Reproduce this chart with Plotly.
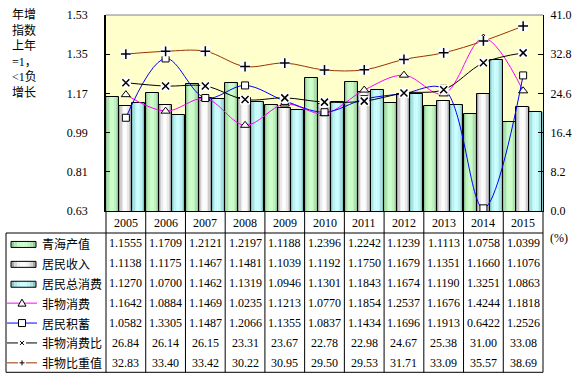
import plotly.graph_objects as go
import math

# ---------------- data ----------------
years = ['2005', '2006', '2007', '2008', '2009', '2010', '2011', '2012', '2013', '2014', '2015']
qinghai_output = [1.1555, 1.1709, 1.2121, 1.2197, 1.1188, 1.2396, 1.2242, 1.1239, 1.1113, 1.0758, 1.0399]
resident_income = [1.1138, 1.1175, 1.1467, 1.1481, 1.1039, 1.1192, 1.1750, 1.1679, 1.1351, 1.1660, 1.1076]
total_consumption = [1.1270, 1.0700, 1.1462, 1.1319, 1.0946, 1.1301, 1.1843, 1.1674, 1.1190, 1.3251, 1.0863]
nonmaterial_consumption = [1.1642, 1.0884, 1.1469, 1.0235, 1.1213, 1.0770, 1.1854, 1.2537, 1.1676, 1.4244, 1.1818]
resident_savings = [1.0582, 1.3305, 1.1487, 1.2066, 1.1355, 1.0837, 1.1434, 1.1696, 1.1913, 0.6422, 1.2526]
nonmaterial_ratio = [26.84, 26.14, 26.15, 23.31, 23.67, 22.78, 22.98, 24.67, 25.38, 31.00, 33.08]
nonmaterial_share = [32.83, 33.40, 33.42, 30.22, 30.95, 29.50, 29.53, 31.71, 33.09, 35.57, 38.69]

left_ticks = [0.63, 0.81, 0.99, 1.17, 1.35, 1.53]
right_ticks = [0.0, 8.2, 16.4, 24.6, 32.8, 41.0]

series_names = ['青海产值', '居民收入', '居民总消费', '非物消费', '居民积蓄', '非物消费比', '非物比重值']

# ---------------- layout geometry ----------------
W, H = 582, 379
L, R, T, B = 106, 543, 15, 211
PW, PH = R - L, B - T
TABLE_LEFT = 6
YEAR_ROW_BOTTOM = 233
ROW_H = 19.9
TABLE_BOTTOM = YEAR_ROW_BOTTOM + 7 * ROW_H


def pxx(px):
    return (px - L) / PW


def pxy(py):
    return (B - py) / PH


n = len(years)
xi = list(range(n))

NUM_FONT = 'Liberation Serif, Times New Roman, serif'
CJK_FONT = 'Noto Sans CJK SC, sans-serif'


def hex2rgb(h):
    h = h.lstrip('#')
    return tuple(int(h[i:i + 2], 16) for i in (0, 2, 4))


def mix(c1, c2, f):
    a, b = hex2rgb(c1), hex2rgb(c2)
    return 'rgb(%d,%d,%d)' % tuple(round(a[i] + (b[i] - a[i]) * f) for i in range(3))


fig = go.Figure()

# ---------------- gradient bars ----------------
bar_series = [
    (qinghai_output, '#78A878', '#CCFFCC'),
    (resident_income, '#707070', '#FFFFFF'),
    (total_consumption, '#64A4A4', '#CCFFFF'),
]
K = 9
bw = 0.327
start = -0.495
for s, (vals, edge, center) in enumerate(bar_series):
    off = start + s * bw
    for k in range(K):
        t = (k + 0.5) / K
        f = math.sin(math.pi * t) ** 0.6
        fig.add_trace(go.Bar(
            x=xi, y=vals, width=[bw / K] * n, offset=off + k * bw / K,
            marker=dict(color=mix(edge, center, f), line=dict(width=0)),
            showlegend=False, hoverinfo='skip'))
    fig.add_trace(go.Bar(
        x=xi, y=vals, width=[bw] * n, offset=off,
        marker=dict(color='rgba(0,0,0,0)', line=dict(color='black', width=1)),
        showlegend=False, hoverinfo='skip'))

# ---------------- lines on left axis ----------------
fig.add_trace(go.Scatter(
    x=xi, y=nonmaterial_consumption, mode='lines+markers',
    line=dict(color='#FF00FF', width=1, shape='spline'),
    marker=dict(symbol='triangle-up', size=8, color='white', line=dict(color='black', width=1)),
    showlegend=False, hoverinfo='skip'))
fig.add_trace(go.Scatter(
    x=xi, y=resident_savings, mode='lines+markers',
    line=dict(color='#0000FF', width=1, shape='spline'),
    marker=dict(symbol='square', size=7, color='white', line=dict(color='black', width=1)),
    showlegend=False, hoverinfo='skip'))

# ---------------- lines on right axis ----------------
for vals, col, sym in [(nonmaterial_ratio, '#000000', 'x-thin'), (nonmaterial_share, '#993300', 'cross-thin')]:
    fig.add_trace(go.Scatter(
        x=xi, y=vals, mode='lines+markers', yaxis='y2',
        line=dict(color=col, width=1, shape='spline'),
        marker=dict(symbol='square', size=10, color='white', line=dict(width=0)),
        showlegend=False, hoverinfo='skip'))
    fig.add_trace(go.Scatter(
        x=xi, y=vals, mode='markers', yaxis='y2',
        marker=dict(symbol=sym, size=7, line=dict(color='black', width=1.5)),
        showlegend=False, hoverinfo='skip'))

shapes = []
annotations = []

# top frame line
shapes.append(dict(type='line', xref='paper', yref='paper', x0=0, x1=1, y0=1, y1=1,
                   line=dict(color='#808080', width=1)))

# ---------------- data table ----------------
for k in range(n + 1):
    shapes.append(dict(type='line', xref='paper', yref='paper', x0=k / n, x1=k / n,
                       y0=0, y1=pxy(TABLE_BOTTOM), line=dict(color='black', width=1)))
for py in (YEAR_ROW_BOTTOM, TABLE_BOTTOM):
    shapes.append(dict(type='line', xref='paper', yref='paper', x0=pxx(TABLE_LEFT), x1=1,
                       y0=pxy(py), y1=pxy(py), line=dict(color='black', width=1)))
shapes.append(dict(type='line', xref='paper', yref='paper', x0=pxx(TABLE_LEFT), x1=pxx(TABLE_LEFT),
                   y0=pxy(YEAR_ROW_BOTTOM), y1=pxy(TABLE_BOTTOM), line=dict(color='black', width=1)))

for i, yr in enumerate(years):
    annotations.append(dict(x=i, xref='x', y=pxy((B + YEAR_ROW_BOTTOM) / 2 + 0.5), yref='paper',
                            text=yr, showarrow=False, font=dict(family=NUM_FONT, size=12, color='black'),
                            xanchor='center', yanchor='middle'))

table_rows = [
    [f'{v:.4f}' for v in qinghai_output],
    [f'{v:.4f}' for v in resident_income],
    [f'{v:.4f}' for v in total_consumption],
    [f'{v:.4f}' for v in nonmaterial_consumption],
    [f'{v:.4f}' for v in resident_savings],
    [f'{v:.2f}' for v in nonmaterial_ratio],
    [f'{v:.2f}' for v in nonmaterial_share],
]
for r, row in enumerate(table_rows):
    cy = YEAR_ROW_BOTTOM + ROW_H * (r + 0.5) + 0.5
    for i, txt in enumerate(row):
        annotations.append(dict(x=i, xref='x', y=pxy(cy), yref='paper', text=txt, showarrow=False,
                                font=dict(family=NUM_FONT, size=12, color='black'),
                                xanchor='center', yanchor='middle'))
    annotations.append(dict(x=pxx(40), xref='paper', y=pxy(cy), yref='paper', text=series_names[r],
                            showarrow=False, font=dict(family=CJK_FONT, size=12, color='black'),
                            xanchor='left', yanchor='middle'))

# legend swatches (bars)
for r, (vals, edge, center) in enumerate(bar_series):
    cy = YEAR_ROW_BOTTOM + ROW_H * (r + 0.5) + 1.5
    x0, x1 = 11, 36
    ks = 8
    for k in range(ks):
        t = (k + 0.5) / ks
        f = math.sin(math.pi * t) ** 0.6
        shapes.append(dict(type='rect', xref='paper', yref='paper',
                           x0=pxx(x0 + (x1 - x0) * k / ks), x1=pxx(x0 + (x1 - x0) * (k + 1) / ks),
                           y0=pxy(cy - 3), y1=pxy(cy + 3), line=dict(width=0),
                           fillcolor=mix(edge, center, f)))
    shapes.append(dict(type='rect', xref='paper', yref='paper', x0=pxx(x0), x1=pxx(x1),
                       y0=pxy(cy - 3), y1=pxy(cy + 3), line=dict(color='black', width=1)))

# legend line samples
line_legend = [('#FF00FF', 'tri'), ('#0000FF', 'sq'), ('#000000', 'x'), ('#993300', 'plus')]
for j, (col, mk) in enumerate(line_legend):
    r = 3 + j
    cy = YEAR_ROW_BOTTOM + ROW_H * (r + 0.5) + 0.5
    shapes.append(dict(type='line', xref='paper', yref='paper', x0=pxx(7), x1=pxx(37),
                       y0=pxy(cy), y1=pxy(cy), line=dict(color=col, width=1)))
    mx = 22
    if mk == 'tri':
        path = 'M %f,%f L %f,%f L %f,%f Z' % (pxx(mx), pxy(cy - 4), pxx(mx - 4), pxy(cy + 3),
                                              pxx(mx + 4), pxy(cy + 3))
        shapes.append(dict(type='path', xref='paper', yref='paper', path=path,
                           fillcolor='white', line=dict(color='black', width=1)))
    elif mk == 'sq':
        shapes.append(dict(type='rect', xref='paper', yref='paper', x0=pxx(mx - 3.5), x1=pxx(mx + 3.5),
                           y0=pxy(cy - 3.5), y1=pxy(cy + 3.5), fillcolor='white',
                           line=dict(color='black', width=1)))
    elif mk == 'x':
        shapes.append(dict(type='rect', xref='paper', yref='paper', x0=pxx(mx - 4), x1=pxx(mx + 4),
                           y0=pxy(cy - 4), y1=pxy(cy + 4), fillcolor='white', line=dict(width=0)))
        for a, b in [((-2, -2), (2, 2)), ((-2, 2), (2, -2))]:
            shapes.append(dict(type='line', xref='paper', yref='paper', x0=pxx(mx + a[0]), x1=pxx(mx + b[0]),
                               y0=pxy(cy + a[1]), y1=pxy(cy + b[1]), line=dict(color='black', width=1)))
    else:
        shapes.append(dict(type='rect', xref='paper', yref='paper', x0=pxx(mx - 4), x1=pxx(mx + 4),
                           y0=pxy(cy - 4), y1=pxy(cy + 4), fillcolor='white', line=dict(width=0)))
        shapes.append(dict(type='line', xref='paper', yref='paper', x0=pxx(mx - 2.5), x1=pxx(mx + 2.5),
                           y0=pxy(cy), y1=pxy(cy), line=dict(color='black', width=1)))
        shapes.append(dict(type='line', xref='paper', yref='paper', x0=pxx(mx), x1=pxx(mx),
                           y0=pxy(cy - 2.5), y1=pxy(cy + 2.5), line=dict(color='black', width=1)))

# left title and right unit
annotations.append(dict(x=pxx(10), xref='paper', y=pxy(6), yref='paper',
                        text='年增<br>指数<br>上年<br>=1，<br>&lt;1负<br>增长',
                        showarrow=False, align='left', xanchor='left', yanchor='top',
                        font=dict(family=NUM_FONT + ', Noto Sans CJK SC', size=12, color='black')))
annotations.append(dict(x=pxx(548), xref='paper', y=pxy(238), yref='paper', text='(%)',
                        showarrow=False, xanchor='left', yanchor='middle',
                        font=dict(family=NUM_FONT, size=12, color='black')))

fig.update_layout(
    template='none',
    width=W, height=H, autosize=False,
    margin=dict(l=L, r=W - R, t=T, b=H - B, pad=0),
    paper_bgcolor='white', plot_bgcolor='#FFFFCC',
    barmode='overlay', bargap=0, showlegend=False,
    xaxis=dict(range=[-0.5, n - 0.5], showticklabels=False, ticks='', showgrid=False,
               zeroline=False, showline=True, linecolor='black', linewidth=1, automargin=False),
    yaxis=dict(range=[left_ticks[0], left_ticks[-1]], tickvals=left_ticks,
               ticktext=[f'{v:.2f}' for v in left_ticks], ticks='inside', ticklen=4,
               tickcolor='black', showgrid=False, zeroline=False, showline=True,
               linecolor='black', linewidth=1.5, automargin=False, ticklabelstandoff=14,
               tickfont=dict(family=NUM_FONT, size=12, color='black')),
    yaxis2=dict(range=[right_ticks[0], right_ticks[-1]], tickvals=right_ticks,
                ticktext=[f'{v:.1f}' for v in right_ticks], overlaying='y', side='right',
                ticks='inside', ticklen=5, tickcolor='black', showgrid=False, zeroline=False,
                showline=True, linecolor='black', linewidth=1, automargin=False,
                ticklabelstandoff=4, tickfont=dict(family=NUM_FONT, size=12, color='black')),
    shapes=shapes, annotations=annotations,
)

fig.write_html('out.html', config={'displayModeBar': False},
               post_script="document.body.style.margin='0';")
